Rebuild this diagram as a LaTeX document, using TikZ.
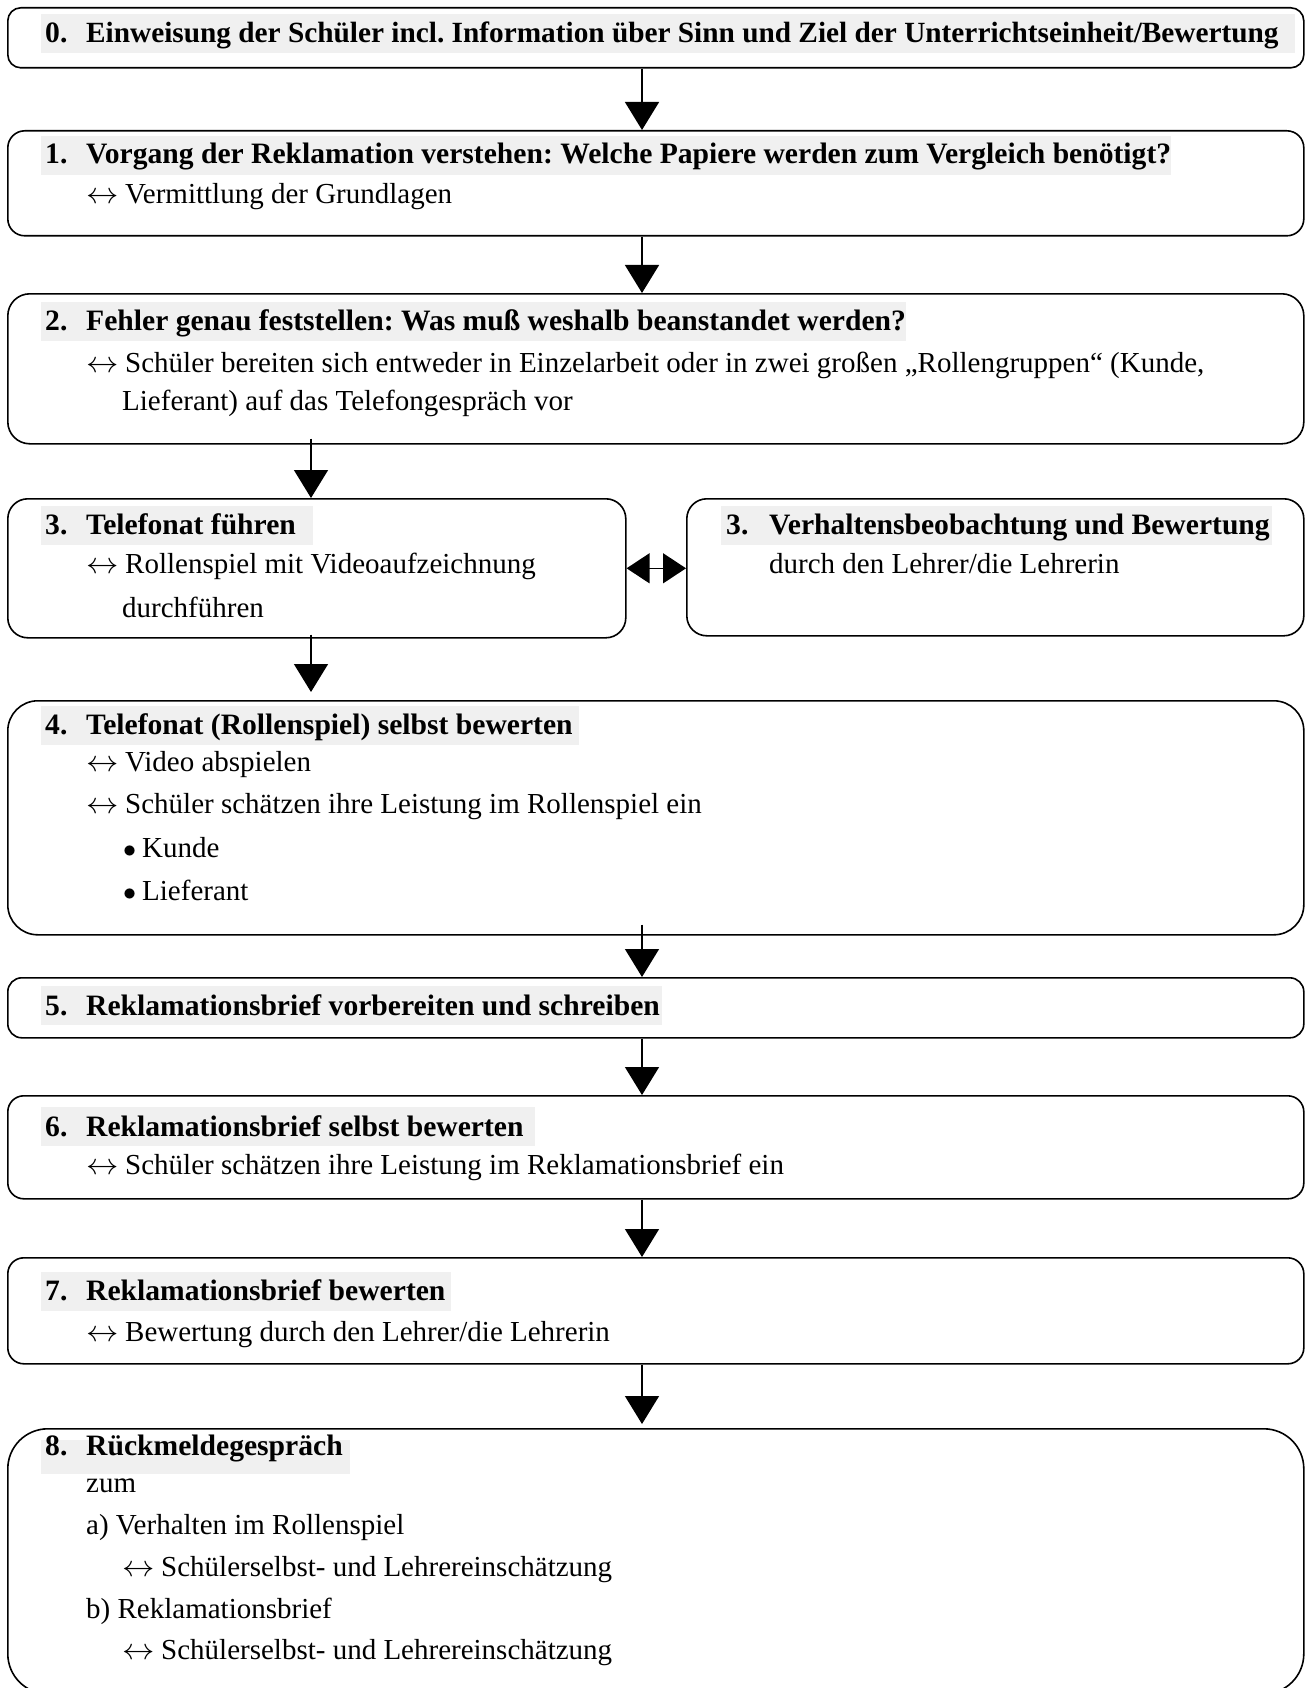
\documentclass[tikz,border=0pt]{standalone}
\usepackage{fontspec}
\usepackage{graphicx}
\setmainfont{Liberation Serif}
\usetikzlibrary{arrows.meta}
\newcommand\myfs{\fontsize{29}{35}\selectfont\frenchspacing}
\newcommand\myhfs{\fontsize{29.6}{35}\selectfont\frenchspacing\bfseries}
\newcommand\arw{\makebox[39pt][l]{\scalebox{1.3}[1.2]{$\leftrightarrow$}}}
\newcommand\bul{\makebox[19pt][l]{\scalebox{1.05}{$\bullet$}}}
\begin{document}
\begin{tikzpicture}[x=1pt,y=-1pt,
  box/.style={draw, line width=1.6pt, rounded corners=#1, anchor=north west, inner sep=0pt, minimum width=1296pt},
  box/.default=14pt,
  txt/.style={anchor=base west, inner sep=0pt, font=\myfs},
  hd/.style={anchor=base west, inner sep=0pt, font=\myhfs},
  arr/.style={line width=1.4pt, -{Triangle[width=34pt,length=28pt]}},
  dbl/.style={line width=1.4pt, {Triangle[width=30pt,length=23pt]}-{Triangle[width=30pt,length=23pt]}},
  hbg/.style={fill=black!6}]
\useasboundingbox (0,0) rectangle (1306,1688);

% heading backgrounds
\fill[hbg] (41,14) rectangle (1295,53);
\fill[hbg] (41,136) rectangle (1171,175);
\fill[hbg] (41,302) rectangle (906,341);
\fill[hbg] (41,506) rectangle (313,545);
\fill[hbg] (721,506) rectangle (1272,545);
\fill[hbg] (41,706) rectangle (579,745);
\fill[hbg] (41,986) rectangle (662,1025);
\fill[hbg] (41,1107) rectangle (535,1146);
\fill[hbg] (41,1272) rectangle (451,1311);
\fill[hbg] (41,1440) rectangle (350,1474);

% boxes
\node[box=13pt, minimum height=60pt] (b0) at (7,7) {};
\node[box=17pt, minimum height=105pt] (b1) at (7,130) {};
\node[box=22pt, minimum height=150pt] (b2) at (7,293) {};
\node[box=20pt, minimum width=618pt, minimum height=139pt] (b3l) at (7,498) {};
\node[box=20pt, minimum width=617pt, minimum height=137pt] (b3r) at (686,498) {};
\node[box=30pt, minimum height=234pt] (b4) at (7,700) {};
\node[box=14pt, minimum height=60pt] (b5) at (7,977) {};
\node[box=16pt, minimum height=103pt] (b6) at (7,1095) {};
\node[box=16pt, minimum height=106pt] (b7) at (7,1257) {};
\node[box=40pt, minimum height=265pt] (b8) at (7,1428) {};

% texts
\node[hd] (t0n) at (45,43) {0.};
\node[hd, font=\fontsize{29.3}{35}\selectfont\frenchspacing\bfseries] (t0) at (86,43) {Einweisung der Schüler incl. Information über Sinn und Ziel der Unterrichtseinheit/Bewertung};

\node[hd] (t1n) at (45,164) {1.};
\node[hd] (t1) at (86,164) {Vorgang der Reklamation verstehen: Welche Papiere werden zum Vergleich benötigt?};
\node[txt] (t1a) at (86,204) {\arw Vermittlung der Grundlagen};

\node[hd] (t2n) at (45,330) {2.};
\node[hd] (t2) at (86,330) {Fehler genau feststellen: Was muß weshalb beanstandet werden?};
\node[txt] (t2a) at (86,372) {\arw Schüler bereiten sich entweder in Einzelarbeit oder in zwei großen „Rollengruppen“ (Kunde,};
\node[txt] (t2b) at (122,410) {Lieferant) auf das Telefongespräch vor};

\node[hd] (t3n) at (45,534) {3.};
\node[hd] (t3) at (86,534) {Telefonat führen};
\node[txt] (t3a) at (86,573) {\arw Rollenspiel mit Videoaufzeichnung};
\node[txt] (t3b) at (122,617) {durchführen};

\node[hd] (t3rn) at (726,534) {3.};
\node[hd] (t3r) at (769,534) {Verhaltensbeobachtung und Bewertung};
\node[txt] (t3ra) at (769,573) {durch den Lehrer/die Lehrerin};

\node[hd] (t4n) at (45,734) {4.};
\node[hd] (t4) at (86,734) {Telefonat (Rollenspiel) selbst bewerten};
\node[txt] (t4a) at (86,771) {\arw Video abspielen};
\node[txt] (t4b) at (86,813) {\arw Schüler schätzen ihre Leistung im Rollenspiel ein};
\node[txt] (t4c) at (123,857) {\bul Kunde};
\node[txt] (t4d) at (123,900) {\bul Lieferant};

\node[hd] (t5n) at (45,1015) {5.};
\node[hd] (t5) at (86,1015) {Reklamationsbrief vorbereiten und schreiben};

\node[hd] (t6n) at (45,1136) {6.};
\node[hd] (t6) at (86,1136) {Reklamationsbrief selbst bewerten};
\node[txt] (t6a) at (86,1174) {\arw Schüler schätzen ihre Leistung im Reklamationsbrief ein};

\node[hd] (t7n) at (45,1300) {7.};
\node[hd] (t7) at (86,1300) {Reklamationsbrief bewerten};
\node[txt] (t7a) at (86,1341) {\arw Bewertung durch den Lehrer/die Lehrerin};

\node[hd] (t8n) at (45,1455) {8.};
\node[hd] (t8) at (86,1455) {Rückmeldegespräch};
\node[txt] (t8a) at (86,1492) {zum};
\node[txt] (t8b) at (86,1534) {a) Verhalten im Rollenspiel};
\node[txt] (t8c) at (122,1576) {\arw Schülerselbst- und Lehrereinschätzung};
\node[txt] (t8d) at (86,1618) {b) Reklamationsbrief};
\node[txt] (t8e) at (122,1659) {\arw Schülerselbst- und Lehrereinschätzung};

% connectors
\coordinate (cx) at (642,0);
\coordinate (lx) at (311,0);
\draw[arr] (b0.south -| cx) -- (b1.north -| cx);
\draw[arr] (b1.south -| cx) -- (b2.north -| cx);
\draw[arr] ([yshift=6pt]b2.south -| lx) -- (b3l.north -| lx);
\draw[arr] ([yshift=4pt]b3l.south -| lx) -- ([yshift=8pt]b4.north -| lx);
\draw[dbl] (b3l.east) -- (b3l.east -| b3r.west);
\draw[arr] ([yshift=11pt]b4.south -| cx) -- (b5.north -| cx);
\draw[arr] (b5.south -| cx) -- (b6.north -| cx);
\draw[arr] (b6.south -| cx) -- (b7.north -| cx);
\draw[arr] (b7.south -| cx) -- ([yshift=4pt]b8.north -| cx);
\end{tikzpicture}
\end{document}
